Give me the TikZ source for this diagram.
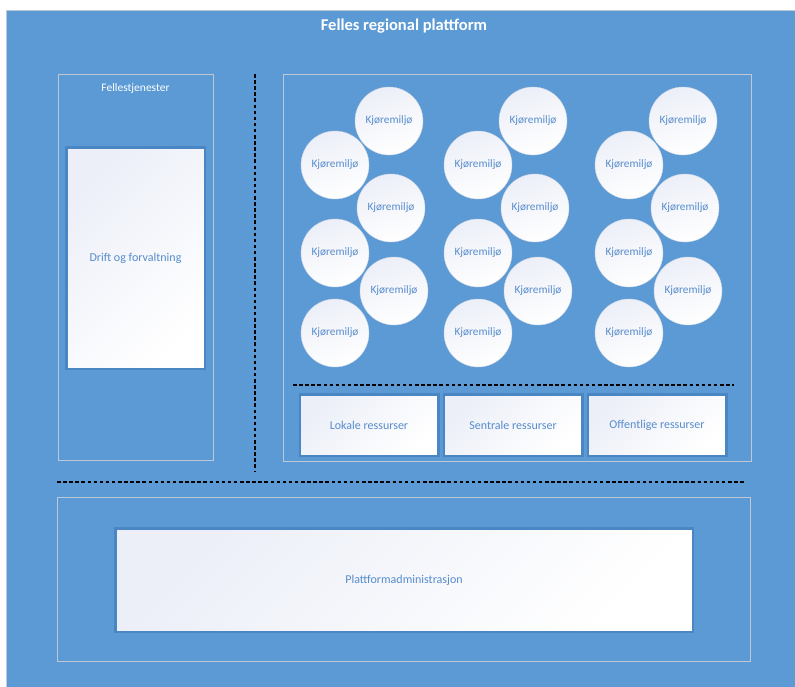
\documentclass[tikz,border=0pt]{standalone}
\usepackage{fontspec}
\setmainfont{Carlito}
\usepackage{tikz}
\usetikzlibrary{shapes,positioning}

\definecolor{bgblue}{RGB}{91,154,213}
\definecolor{tileedge}{RGB}{74,134,196}
\definecolor{paneledge}{RGB}{190,200,215}
\definecolor{envedge}{RGB}{205,212,228}
\definecolor{tiletop}{RGB}{236,239,248}
\definecolor{tiletext}{RGB}{86,140,204}

\begin{document}
\begin{tikzpicture}[x=1pt, y=-1pt,
		basic/.style   = {rectangle, align=center, inner sep=0pt},
		panel/.style   = {basic, draw=paneledge, thin},
		tile/.style    = {basic, draw=tileedge, line width=2.5pt, top color=tiletop, bottom color=white, shading angle=45, text=tiletext, font=\fontsize{12}{14}\selectfont},
		env/.style     = {circle, draw=envedge, thin, inner sep=0pt, minimum size=68pt, top color=tiletop, bottom color=white, shading angle=20, text=tiletext, font=\fontsize{11.3}{13}\selectfont},
		divider/.style = {draw=black, line width=2.6pt, dash pattern=on 3.5pt off 2.6pt},
		heading/.style = {basic, text=white}]
		
		\useasboundingbox (0,0) rectangle (795,686);
		
		% Outer frame with title
		\node[basic, fill=bgblue, draw=paneledge, anchor=north west, minimum width=792pt, minimum height=679pt] (plattform) at (6,10) {};
		\node[heading, font=\bfseries\fontsize{16.5}{18}\selectfont] (title) at (404,26) {Felles regional plattform};
		
		% Panels
		\node[panel, minimum width=155pt, minimum height=386pt] (felles) at (135.5,267) {};
		\node[heading, font=\fontsize{11.5}{13}\selectfont, below=9.5pt of felles.north] (fellestitle) {Fellestjenester};
		\node[panel, minimum width=468pt, minimum height=387pt] (miljo) at (517,267.5) {};
		\node[panel, minimum width=693pt, minimum height=164pt] (admpanel) at (403.5,579) {};
		
		% Dotted dividers
		\draw[divider] (255,74) -- (255,472);
		\draw[divider] (57,482) -- (746,482);
		\draw[divider] (293,385) -- (734,385);
		
		% Service boxes
		\node[tile, minimum width=138.5pt, minimum height=221.5pt] (drift) at (135.5,258) {Drift og forvaltning};
		\node[tile, minimum width=577.5pt, minimum height=103.5pt] (admin) at (404,580) {Plattformadministrasjon};
		
		% Resource boxes, placed side by side
		\begin{scope}[every node/.style={tile, minimum width=138.5pt, minimum height=61.5pt}]
			\node (lokale) at (369,425) {Lokale ressurser};
			\node [right=3pt of lokale] (sentrale) {Sentrale ressurser};
			\node [right=3pt of sentrale] (offentlige) {Offentlige ressurser};
		\end{scope}
		
		% Three columns of run environments
		\foreach \c/\lx/\rx in {1/335/389, 2/478/533, 3/629/683} {
			\node[env] (kj\c1) at (\rx,121) {Kjøremiljø};
			\node[env] (kj\c2) at (\lx,165) {Kjøremiljø};
			\node[env] (kj\c3) at (\rx+2,208) {Kjøremiljø};
			\node[env] (kj\c4) at (\lx,253) {Kjøremiljø};
			\node[env] (kj\c5) at (\rx+5,291) {Kjøremiljø};
			\node[env] (kj\c6) at (\lx,333) {Kjøremiljø};
		}
		
	\end{tikzpicture}
\end{document}
